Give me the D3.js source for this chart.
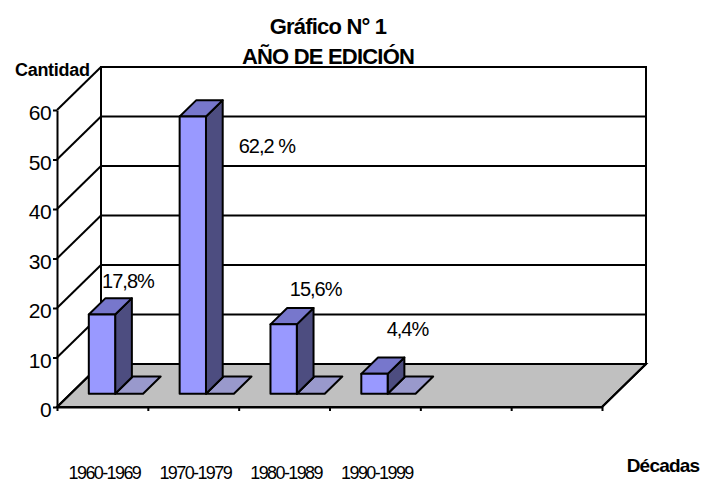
<!DOCTYPE html>
<html>
<head>
<meta charset="utf-8">
<script src="https://cdn.jsdelivr.net/npm/d3@7"></script>
<style>
  html, body { margin: 0; padding: 0; background: #ffffff; }
  svg { display: block; font-family: "Liberation Sans", Arial, sans-serif; }
</style>
</head>
<body>
<svg id="chart" width="702" height="483"></svg>
<script>
// ---- data ----
const categories = ["1960-1969", "1970-1979", "1980-1989", "1990-1999"];
const values = [16, 56, 14, 4];
const percentLabels = ["17,8%", "62,2 %", "15,6%", "4,4%"];
const yTicks = [0, 10, 20, 30, 40, 50, 60];
const titleLines = ["Gráfico N° 1", "AÑO DE EDICIÓN"];
const yAxisTitle = "Cantidad";
const xAxisTitle = "Décadas";
const slotCount = 6;

// ---- layout ----
const svg = d3.select("#chart");
const x0 = 57, x1 = 602, yBottom = 407, yTop = 110;
const DX = 44, DY = -43;                       // oblique depth vector
const x = d3.scaleBand().domain(d3.range(slotCount)).range([x0, x1]);
const xl = d3.scaleLinear().domain([0, slotCount]).range([x0, x1]);
const y = d3.scaleLinear().domain([0, 60]).range([yBottom, yTop]);
const P = (px, py, t) => [px + t * DX, py + t * DY];
const poly = pts => pts.map(p => p.join(",")).join(" ");

const strokeW = 2;

// floor
svg.append("polygon")
  .attr("points", poly([P(x0, y(0), 0), P(x0, y(0), 1), P(x1, y(0), 1), P(x1, y(0), 0)]))
  .attr("fill", "#c0c0c0").attr("stroke", "#000").attr("stroke-width", strokeW)
  .attr("stroke-linejoin", "miter");

// back wall gridlines
svg.append("g").selectAll("line").data(yTicks).join("line")
  .attr("x1", d => P(x0, y(d), 1)[0]).attr("y1", d => P(x0, y(d), 1)[1])
  .attr("x2", d => P(x1, y(d), 1)[0]).attr("y2", d => P(x1, y(d), 1)[1])
  .attr("stroke", "#000").attr("stroke-width", strokeW);

// back wall verticals
[x0, x1].forEach(xx => {
  const a = P(xx, y(0), 1), b = P(xx, y(60), 1);
  svg.append("line").attr("x1", a[0]).attr("y1", a[1] + 1).attr("x2", b[0]).attr("y2", b[1] - 1)
    .attr("stroke", "#000").attr("stroke-width", strokeW);
});

// left wall diagonals
svg.append("g").selectAll("line").data(yTicks).join("line")
  .attr("x1", d => P(x0, y(d), 0)[0]).attr("y1", d => P(x0, y(d), 0)[1])
  .attr("x2", d => P(x0, y(d), 1)[0]).attr("y2", d => P(x0, y(d), 1)[1])
  .attr("stroke", "#000").attr("stroke-width", strokeW);

// floor right diagonal
{
  const a = P(x1, y(0), 0), b = P(x1, y(0), 1);
  svg.append("line").attr("x1", a[0]).attr("y1", a[1]).attr("x2", b[0]).attr("y2", b[1])
    .attr("stroke", "#000").attr("stroke-width", strokeW);
}

// y axis
const yAxis = svg.append("g").attr("transform", `translate(${x0},0)`)
  .call(d3.axisLeft(y).tickValues(yTicks).tickSize(4).tickSizeOuter(0).tickPadding(2));
yAxis.select(".domain").attr("stroke", "#000").attr("stroke-width", strokeW);
yAxis.selectAll(".tick line").attr("stroke", "#000").attr("stroke-width", strokeW);
yAxis.selectAll(".tick text")
  .attr("font-family", "Liberation Sans, Arial, sans-serif")
  .attr("font-size", 21).attr("letter-spacing", "-0.6px")
  .attr("fill", "#000").attr("dy", "0.47em");

// x axis (floor front edge with slot ticks)
const xAxis = svg.append("g").attr("transform", `translate(0,${yBottom})`)
  .call(d3.axisBottom(xl).tickValues(d3.range(slotCount + 1)).tickFormat("").tickSize(4).tickSizeOuter(0));
xAxis.select(".domain").attr("stroke", "#000").attr("stroke-width", strokeW);
xAxis.selectAll(".tick line").attr("stroke", "#000").attr("stroke-width", strokeW);

// category labels
svg.append("g").selectAll("text").data(categories).join("text")
  .attr("x", (d, i) => x(i) + x.bandwidth() / 2 + 2)
  .attr("y", 479)
  .attr("text-anchor", "middle")
  .attr("font-size", 18).attr("letter-spacing", "-1.6px")
  .attr("fill", "#000")
  .text(d => d);

// bars
const bw = x.bandwidth();
const t0 = 0.31, t1 = 0.69;
const barG = svg.append("g");
values.forEach((v, i) => {
  const xL = x(i) + bw * 0.2, xR = xL + bw * 0.29, w = xR - xL;
  const yb = y(0), yv = y(v);
  const g = barG.append("g");
  // shadow on floor
  g.append("polygon")
    .attr("points", poly([P(xR, yb, t0), P(xR + w * 1.06, yb, t0), P(xR + w * 1.06, yb, t1 + 0.02), P(xR, yb, t1 + 0.02)]))
    .attr("fill", "#9999cc").attr("stroke", "#000").attr("stroke-width", strokeW).attr("stroke-linejoin", "round");
  // side
  g.append("polygon")
    .attr("points", poly([P(xR, yb, t0), P(xR, yb, t1), P(xR, yv, t1), P(xR, yv, t0)]))
    .attr("fill", "#4d4d80").attr("stroke", "#000").attr("stroke-width", strokeW).attr("stroke-linejoin", "round");
  // top
  g.append("polygon")
    .attr("points", poly([P(xL, yv, t0), P(xR, yv, t0), P(xR, yv, t1), P(xL, yv, t1)]))
    .attr("fill", "#7777cc").attr("stroke", "#000").attr("stroke-width", strokeW).attr("stroke-linejoin", "round");
  // front
  g.append("polygon")
    .attr("points", poly([P(xL, yb, t0), P(xR, yb, t0), P(xR, yv, t0), P(xL, yv, t0)]))
    .attr("fill", "#9999ff").attr("stroke", "#000").attr("stroke-width", strokeW).attr("stroke-linejoin", "round");
});

// data labels (manually nudged as in the original)
const nudges = [[26, -26.5], [74, 36.5], [32, -28.7], [33, -37.5]];
svg.append("g").selectAll("text").data(percentLabels).join("text")
  .attr("x", (d, i) => {
    const xL = x(i) + bw * 0.2, xR = xL + bw * 0.29;
    return P((xL + xR) / 2, 0, t0)[0] + nudges[i][0];
  })
  .attr("y", (d, i) => P(0, y(values[i]), t0)[1] + nudges[i][1])
  .attr("text-anchor", "middle")
  .attr("font-size", 20).attr("letter-spacing", "-1px")
  .attr("fill", "#000")
  .text(d => d);

// titles
svg.append("g").selectAll("text").data(titleLines).join("text")
  .attr("x", 328).attr("y", (d, i) => 34.3 + i * 30)
  .attr("text-anchor", "middle")
  .attr("font-size", 22).attr("font-weight", "bold").attr("letter-spacing", "-0.8px")
  .attr("fill", "#000")
  .text(d => d);

svg.append("text").attr("x", 15).attr("y", 75.7)
  .attr("font-size", 18).attr("font-weight", "bold").attr("letter-spacing", "-0.3px")
  .attr("fill", "#000").text(yAxisTitle);

svg.append("text").attr("x", 626.7).attr("y", 471.7)
  .attr("font-size", 19).attr("font-weight", "bold").attr("letter-spacing", "-0.8px")
  .attr("fill", "#000").text(xAxisTitle);
</script>
</body>
</html>
